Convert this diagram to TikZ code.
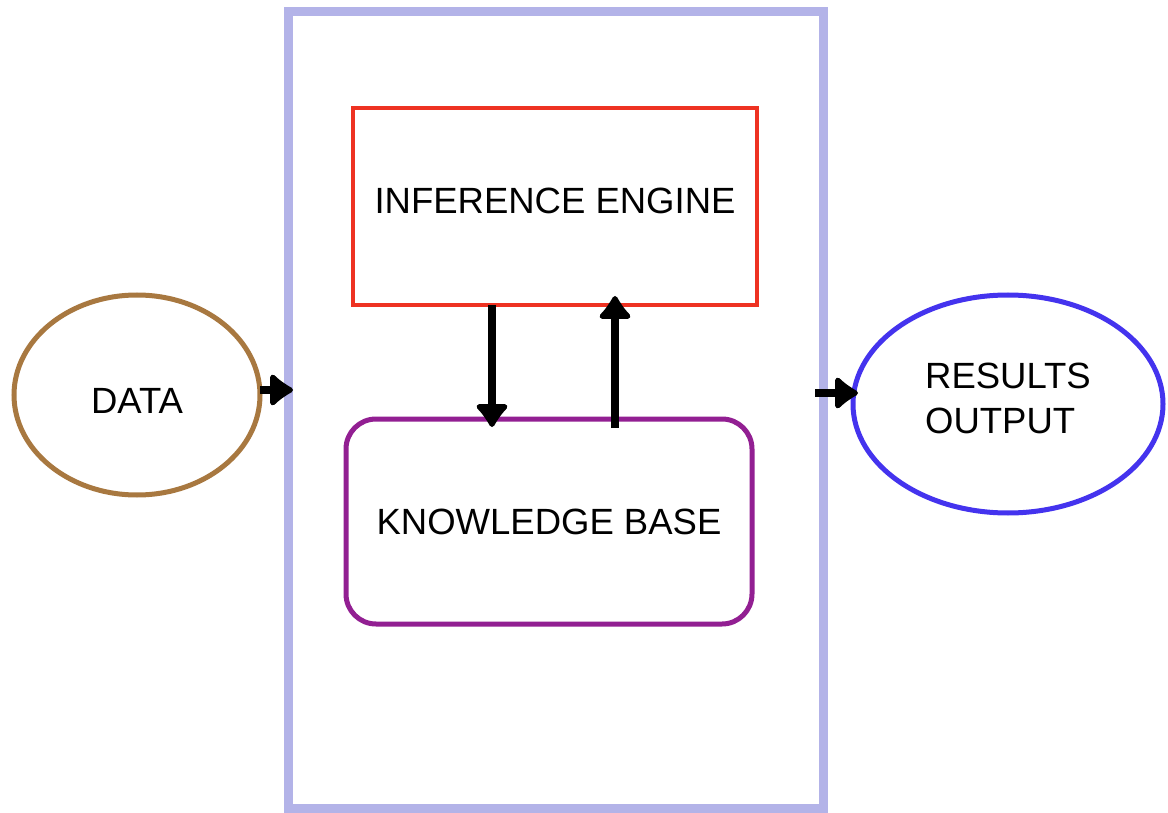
\documentclass[tikz,border=0pt]{standalone}
\usepackage{fontspec}
\setmainfont{Liberation Sans}
\usetikzlibrary{shapes.geometric,arrows.meta}
\definecolor{lav}{RGB}{179,179,232}
\definecolor{iered}{RGB}{238,50,34}
\definecolor{kbpurple}{RGB}{146,31,146}
\definecolor{databrown}{RGB}{168,120,64}
\definecolor{resblue}{RGB}{68,51,238}
\tikzset{
  txt/.style={font=\fontsize{36.5}{45}\selectfont, text=black, outer sep=0pt},
  sysbox/.style={draw=lav, line width=9pt, rectangle, outer sep=0pt},
  iebox/.style={txt, draw=iered, line width=4.5pt, rectangle},
  kbbox/.style={txt, draw=kbpurple, line width=5pt, rectangle, rounded corners=30pt},
  dataell/.style={txt, draw=databrown, line width=5pt, ellipse},
  resell/.style={txt, draw=resblue, line width=5pt, ellipse, align=left},
  arr/.style={line width=8pt, black, -{Latex[width=40pt,length=26pt,round]}}
}
\begin{document}
\begin{tikzpicture}[x=1pt,y=-1pt]
\useasboundingbox (0,0) rectangle (1168,813);
\fill[white] (0,0) rectangle (1168,813);
\node[sysbox, minimum width=535pt, minimum height=796pt] (sys) at (555.5,410) {};
\node[iebox, minimum width=404pt, minimum height=197pt, text depth=11pt] (ie) at (555,206.5) {INFERENCE ENGINE};
\node[kbbox, minimum width=406pt, minimum height=205pt] (kb) at (549,521.5) {KNOWLEDGE BASE};
\node[dataell, minimum width=246pt, minimum height=200pt, text height=36pt] (data) at (137,395) {DATA};
\node[resell, minimum width=310pt, minimum height=218pt, text depth=12pt] (res) at (1008,404) {RESULTS\\OUTPUT};
\draw[arr] ([yshift=5pt]data.east) -- ([yshift=5pt,xshift=5pt]data.east -| sys.west);
\draw[arr] ([yshift=17pt,xshift=-8pt]sys.east) -- ([yshift=11pt,xshift=5pt]res.west);
\draw[arr] ([xshift=-63pt]ie.south) -- ([xshift=-57pt,yshift=-8pt]kb.north);
\draw[arr] ([xshift=66pt,yshift=-9pt]kb.north) -- ([xshift=60pt,yshift=9pt]ie.south);
\end{tikzpicture}
\end{document}
